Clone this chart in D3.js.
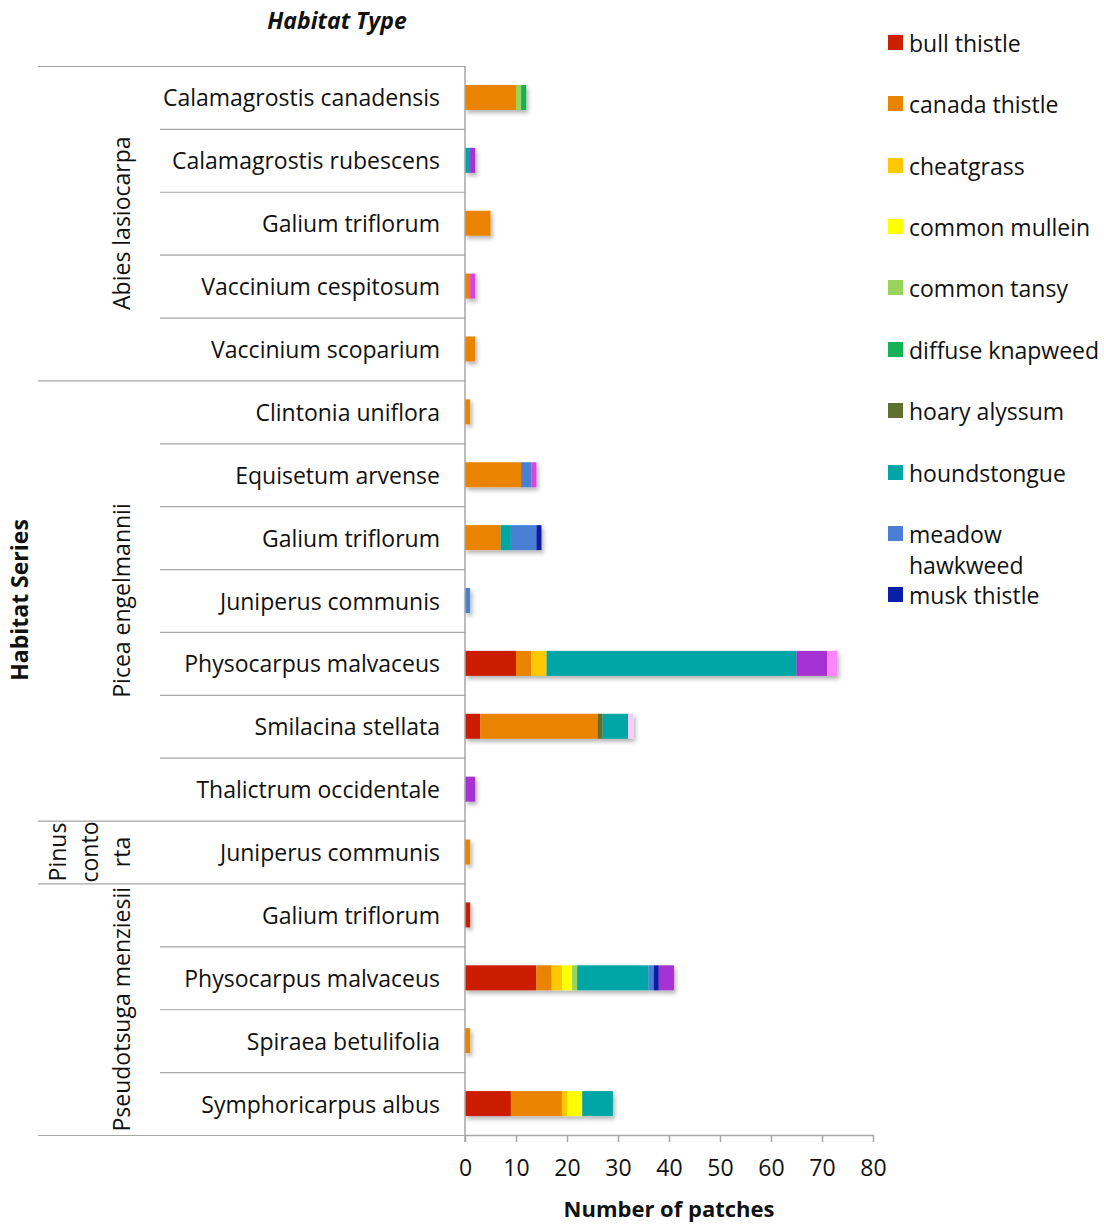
<!DOCTYPE html>
<html>
<head>
<meta charset="utf-8">
<script src="https://cdn.jsdelivr.net/npm/d3@7"></script>
<style>
  html, body { margin: 0; padding: 0; background: #fff; }
  svg { display: block; font-family: "Open Sans", Lato, sans-serif; }
</style>
</head>
<body>
<svg id="chart" width="1104" height="1224"></svg>
<script>
// ---- data ----
const habitatTypes = [
  "Calamagrostis canadensis", "Calamagrostis rubescens", "Galium triflorum",
  "Vaccinium cespitosum", "Vaccinium scoparium",
  "Clintonia uniflora", "Equisetum arvense", "Galium triflorum", "Juniperus communis",
  "Physocarpus malvaceus", "Smilacina stellata", "Thalictrum occidentale",
  "Juniperus communis",
  "Galium triflorum", "Physocarpus malvaceus", "Spiraea betulifolia", "Symphoricarpus albus"
];
const habitatSeries = [
  { name: "Abies lasiocarpa", lines: ["Abies lasiocarpa"], start: 0, end: 4 },
  { name: "Picea engelmannii", lines: ["Picea engelmannii"], start: 5, end: 11 },
  { name: "Pinus contorta", lines: ["Pinus", "conto", "rta"], start: 12, end: 12 },
  { name: "Pseudotsuga menziesii", lines: ["Pseudotsuga menziesii"], start: 13, end: 16 }
];
const speciesNames = [
  "bull thistle", "canada thistle", "cheatgrass", "common mullein", "common tansy",
  "diffuse knapweed", "hoary alyssum", "houndstongue", "meadow hawkweed", "musk thistle",
  "spotted knapweed", "St. Johnswort", "sulfur cinquefoil", "yellow toadflax"
];
const speciesColors = [
  "#CC1F00", "#E98300", "#FFC800", "#FFFF00", "#99D45A",
  "#14B155", "#5E6F2F", "#00A6A6", "#4A7FD5", "#0A1FA8",
  "#A630D4", "#DC44DD", "#FF85FF", "#F8CCFF"
];
const legendCount = 10; // legend shown is cut after "musk thistle"
//                      0  1  2  3  4  5  6  7  8  9 10 11 12 13 14 15 16
const bullThistle     = [0, 0, 0, 0, 0, 0, 0, 0, 0,10, 3, 0, 0, 1,14, 0, 9];
const canadaThistle   = [10,0, 5, 1, 2, 1,11, 7, 0, 3,23, 0, 1, 0, 3, 1,10];
const cheatgrass      = [0, 0, 0, 0, 0, 0, 0, 0, 0, 3, 0, 0, 0, 0, 2, 0, 1];
const commonMullein   = [0, 0, 0, 0, 0, 0, 0, 0, 0, 0, 0, 0, 0, 0, 2, 0, 3];
const commonTansy     = [1, 0, 0, 0, 0, 0, 0, 0, 0, 0, 0, 0, 0, 0, 1, 0, 0];
const diffuseKnapweed = [1, 0, 0, 0, 0, 0, 0, 0, 0, 0, 0, 0, 0, 0, 0, 0, 0];
const hoaryAlyssum    = [0, 0, 0, 0, 0, 0, 0, 0, 0, 0, 1, 0, 0, 0, 0, 0, 0];
const houndstongue    = [0, 1, 0, 0, 0, 0, 0, 2, 0,49, 5, 0, 0, 0,14, 0, 6];
const meadowHawkweed  = [0, 0, 0, 0, 0, 0, 2, 5, 1, 0, 0, 0, 0, 0, 1, 0, 0];
const muskThistle     = [0, 0, 0, 0, 0, 0, 0, 1, 0, 0, 0, 0, 0, 0, 1, 0, 0];
const spottedKnapweed = [0, 1, 0, 0, 0, 0, 0, 0, 0, 6, 0, 2, 0, 0, 3, 0, 0];
const stJohnswort     = [0, 0, 0, 1, 0, 0, 1, 0, 0, 0, 0, 0, 0, 0, 0, 0, 0];
const sulfurCinquefoil= [0, 0, 0, 0, 0, 0, 0, 0, 0, 2, 0, 0, 0, 0, 0, 0, 0];
const yellowToadflax  = [0, 0, 0, 0, 0, 0, 0, 0, 0, 0, 1, 0, 0, 0, 0, 0, 0];
const seriesValues = [bullThistle, canadaThistle, cheatgrass, commonMullein, commonTansy,
  diffuseKnapweed, hoaryAlyssum, houndstongue, meadowHawkweed, muskThistle,
  spottedKnapweed, stJohnswort, sulfurCinquefoil, yellowToadflax];
const xTicks = [0, 10, 20, 30, 40, 50, 60, 70, 80];

// ---- build table ----
const rows = habitatTypes.map((h, i) => {
  const r = { idx: i, type: h };
  speciesNames.forEach((s, j) => r[s] = seriesValues[j][i]);
  return r;
});
const stacked = d3.stack().keys(speciesNames)(rows);

// ---- layout ----
const svg = d3.select("#chart");
const axisX = 465, plotTop = 66, plotBottom = 1135;
const x = d3.scaleLinear().domain([0, 80]).range([axisX, 873]);
const y = d3.scaleBand().domain(d3.range(habitatTypes.length)).range([plotTop, plotBottom]);
const color = d3.scaleOrdinal().domain(speciesNames).range(speciesColors);
const barH = 25;
const lineColor = "#A6A6A6";
const fs = 23;
const txt = "#111";

const defs = svg.append("defs");
const f = defs.append("filter").attr("id", "shadow").attr("x", "-10%").attr("y", "-30%").attr("width", "130%").attr("height", "180%");
f.append("feDropShadow").attr("dx", 2).attr("dy", 3).attr("stdDeviation", 2).attr("flood-color", "#000").attr("flood-opacity", 0.3);

// separators
const sepG = svg.append("g");
const groupStarts = new Set(habitatSeries.map(g => g.start));
d3.range(habitatTypes.length).forEach(i => {
  const yy = y(i) + 0.5;
  sepG.append("line").attr("x1", groupStarts.has(i) ? 38 : 160).attr("x2", axisX)
    .attr("y1", yy).attr("y2", yy).attr("stroke", lineColor).attr("stroke-width", 1.2);
});
sepG.append("line").attr("x1", 38).attr("x2", axisX).attr("y1", plotBottom + 0.5).attr("y2", plotBottom + 0.5)
  .attr("stroke", lineColor).attr("stroke-width", 1.2);

// bars
const barsG = svg.append("g").attr("filter", "url(#shadow)");
stacked.forEach(layer => {
  barsG.append("g").attr("fill", color(layer.key))
    .selectAll("rect").data(layer.filter(d => d[1] - d[0] > 0)).join("rect")
    .attr("x", d => x(d[0]))
    .attr("width", d => x(d[1]) - x(d[0]))
    .attr("y", d => y(d.data.idx) + (y.bandwidth() - barH) / 2)
    .attr("height", barH);
});

// x axis
const xAxis = d3.axisBottom(x).tickValues(xTicks).tickSize(7).tickPadding(18).tickSizeOuter(0);
const gx = svg.append("g").attr("transform", `translate(0,${plotBottom})`).call(xAxis);
gx.select(".domain").attr("stroke", lineColor).attr("stroke-width", 1.5);
gx.selectAll(".tick line").attr("stroke", lineColor).attr("stroke-width", 1.5);
gx.selectAll(".tick text").attr("font-size", fs).attr("fill", txt).attr("font-family", "'Open Sans', sans-serif");

// y axis line
svg.append("line").attr("x1", axisX).attr("x2", axisX).attr("y1", plotTop).attr("y2", plotBottom + 7)
  .attr("stroke", lineColor).attr("stroke-width", 1.5);

// category labels
svg.append("g").selectAll("text").data(habitatTypes).join("text")
  .attr("x", 440).attr("y", (d, i) => y(i) + y.bandwidth() / 2 + 1)
  .attr("dy", "0.35em").attr("text-anchor", "end")
  .attr("font-size", fs).attr("fill", txt).text(d => d);

// series labels (rotated)
habitatSeries.forEach(g => {
  const cy = (y(g.start) + y(g.end) + y.bandwidth()) / 2;
  const n = g.lines.length;
  const lh = 32;
  g.lines.forEach((ln, k) => {
    const cx = 122 - (n - 1 - k) * lh;
    svg.append("text")
      .attr("transform", `translate(${cx},${cy}) rotate(-90)`)
      .attr("text-anchor", "middle").attr("dy", "0.35em")
      .attr("font-size", fs).attr("fill", txt).text(ln);
  });
});

// titles
svg.append("text").attr("x", 337).attr("y", 21).attr("dy", "0.35em").attr("text-anchor", "middle")
  .attr("font-size", fs).attr("font-weight", "bold").attr("font-style", "italic").attr("fill", txt)
  .text("Habitat Type");
svg.append("text").attr("transform", `translate(20,600) rotate(-90)`).attr("dy", "0.35em")
  .attr("text-anchor", "middle").attr("font-size", fs).attr("font-weight", "bold").attr("fill", txt)
  .text("Habitat Series");
svg.append("text").attr("x", 669).attr("y", 1209).attr("dy", "0.35em").attr("text-anchor", "middle")
  .attr("font-size", 22).attr("font-weight", "bold").attr("fill", txt)
  .text("Number of patches");

// legend
const legendWrap = { "meadow hawkweed": ["meadow", "hawkweed"] };
const legendY = [43, 104, 166, 227, 288, 350, 411, 473, 534, 595];
const lg = svg.append("g");
speciesNames.slice(0, legendCount).forEach((s, i) => {
  const yy = legendY[i];
  lg.append("rect").attr("x", 888).attr("y", yy - 8).attr("width", 15).attr("height", 15).attr("fill", color(s));
  const lines = legendWrap[s] || [s];
  lines.forEach((ln, k) => {
    lg.append("text").attr("x", 909).attr("y", yy + 1 + k * 31).attr("dy", "0.35em")
      .attr("font-size", fs).attr("fill", txt).text(ln);
  });
});
</script>
</body>
</html>
